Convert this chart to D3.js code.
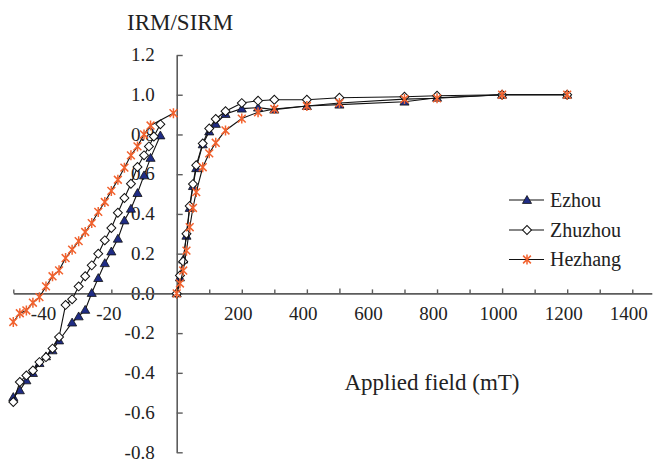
<!DOCTYPE html>
<html>
<head>
<meta charset="utf-8">
<script src="https://cdn.jsdelivr.net/npm/d3@7"></script>
<style>
  html, body { margin: 0; padding: 0; background: #fff; }
  svg { display: block; }
  text { font-family: "Liberation Serif", "Times New Roman", "DejaVu Serif", serif; fill: #222; }
</style>
</head>
<body>
<svg id="chart" width="663" height="459" font-family="Liberation Serif, Times New Roman, serif"></svg>
<script>
// Applied fields (mT) for IRM acquisition (positive side)
const fieldsPos = [0, 10, 20, 30, 40, 50, 60, 80, 100, 120, 150, 200, 250, 300, 400, 500, 700, 800, 1000, 1200];
const ezhouPos    = [0, 0.08, 0.17, 0.29, 0.43, 0.54, 0.63, 0.75, 0.815, 0.853, 0.903, 0.93, 0.935, 0.925, 0.943, 0.95, 0.965, 0.985, 1.0, 1.0];
const zhuzhouPos  = [0, 0.09, 0.16, 0.30, 0.44, 0.55, 0.645, 0.755, 0.83, 0.878, 0.917, 0.958, 0.97, 0.975, 0.975, 0.985, 0.99, 0.995, 1.0, 1.0];
const hezhangPos  = [0, 0.05, 0.115, 0.215, 0.333, 0.43, 0.51, 0.635, 0.705, 0.758, 0.82, 0.88, 0.912, 0.928, 0.943, 0.958, 0.978, 0.982, 1.0, 1.0];

// Backfield demagnetisation (negative side, mT)
const ezhouNegFields = [-5, -8, -10, -12, -14, -16, -18, -20, -22, -24, -26, -28, -30, -32, -36, -38, -40, -42, -44, -46, -48, -50];
const ezhouNeg       = [0.795, 0.682, 0.594, 0.505, 0.426, 0.367, 0.275, 0.211, 0.152, 0.077, 0.002, -0.083, -0.116, -0.147, -0.237, -0.287, -0.317, -0.351, -0.401, -0.438, -0.488, -0.522];

const zhuzhouNegFields = [-5, -7, -8.5, -10, -12, -14, -16, -18, -20, -22, -24, -26, -28, -30, -32, -34, -36, -38, -40, -42, -44, -46, -48, -50];
const zhuzhouNeg       = [0.851, 0.79, 0.74, 0.695, 0.636, 0.552, 0.48, 0.406, 0.329, 0.267, 0.2, 0.141, 0.086, 0.035, -0.03, -0.058, -0.22, -0.278, -0.321, -0.346, -0.388, -0.413, -0.446, -0.547];

const hezhangNegFields = [-1, -8, -10, -12, -14, -16, -18, -20, -22, -24, -26, -28, -30, -32, -34, -36, -38, -40, -42, -44, -46, -48, -50];
const hezhangNeg       = [0.907, 0.845, 0.80, 0.74, 0.695, 0.633, 0.572, 0.516, 0.46, 0.41, 0.354, 0.309, 0.263, 0.22, 0.178, 0.116, 0.086, 0.035, -0.019, -0.047, -0.086, -0.10, -0.144];

// Axis ticks and labels
const yTicks = [-0.8, -0.6, -0.4, -0.2, 0, 0.2, 0.4, 0.6, 0.8, 1.0, 1.2];
const xPosTicks = [0, 100, 200, 300, 400, 500, 600, 700, 800, 900, 1000, 1100, 1200, 1300, 1400];
const xPosLabels = [200, 400, 600, 800, 1000, 1200, 1400];
const xNegTicks = [-50, -20];
const xNegLabels = [-40, -20];

const seriesNames = ["Ezhou", "Zhuzhou", "Hezhang"];

const svg = d3.select("#chart");
const serif = '"Liberation Serif", "Times New Roman", serif';

// Scales: the backfield branch is stretched 10x relative to the forward branch
const xNeg = d3.scaleLinear().domain([-50, 0]).range([13.3, 176.7]);
const xPos = d3.scaleLinear().domain([0, 1460]).range([176.7, 651.8]);
const y = d3.scaleLinear().domain([-0.8, 1.2]).range([452.3, 55]);
const x0 = y(0);

const axisColor = "#5c5c5c";
const fontSize = 19;

function styleAxis(g) {
  g.attr("font-family", null);
  g.selectAll("path.domain").attr("stroke", axisColor).attr("stroke-width", 1.6);
  g.selectAll(".tick line").attr("stroke", axisColor).attr("stroke-width", 1.4);
  g.selectAll(".tick text")
    .attr("fill", "#222")
    .style("font-family", serif)
    .style("font-size", fontSize + "px");
}

// Y axis (ticks point into the plot)
const yAxisG = svg.append("g")
  .attr("transform", `translate(${xPos(0)},0)`)
  .call(d3.axisLeft(y).tickValues(yTicks).tickSizeInner(-6).tickSizeOuter(0)
    .tickPadding(22).tickFormat(d => d.toFixed(1)));
styleAxis(yAxisG);
yAxisG.selectAll(".tick text").attr("dy", "0.3em");

// X axis, forward branch
const xPosG = svg.append("g")
  .attr("transform", `translate(0,${x0})`)
  .call(d3.axisBottom(xPos).tickValues(xPosTicks).tickSizeOuter(0).tickSizeInner(-4)
    .tickPadding(13).tickFormat(d => xPosLabels.includes(d) ? String(d) : ""));
styleAxis(xPosG);
xPosG.selectAll(".tick line").attr("y2", d => d % 500 === 0 ? -5 : -4);
xPosG.selectAll(".tick text").attr("dx", -4);

// X axis, backfield branch: tick marks and labels
const xNegG = svg.append("g")
  .attr("transform", `translate(0,${x0})`)
  .call(d3.axisBottom(xNeg).tickValues(xNegTicks).tickSizeOuter(0).tickSizeInner(-4)
    .tickFormat(() => ""));
styleAxis(xNegG);

const xNegLabelG = svg.append("g")
  .attr("transform", `translate(0,${x0})`)
  .call(d3.axisBottom(xNeg).tickValues(xNegLabels).tickSize(0).tickPadding(13)
    .tickFormat(d => String(d)));
styleAxis(xNegLabelG);
xNegLabelG.select("path.domain").remove();
xNegLabelG.selectAll(".tick text").attr("dx", -3);

// Axis titles
svg.append("text")
  .attr("x", 127).attr("y", 30)
  .style("font-family", serif)
  .style("font-size", "23px")
  .text("IRM/SIRM");

svg.append("text")
  .attr("x", 432).attr("y", 390)
  .attr("text-anchor", "middle")
  .style("font-family", serif)
  .style("font-size", "23px")
  .text("Applied field (mT)");

// Marker drawing helpers
const triPath = d3.symbol(d3.symbolTriangle, 36)();
const diamondPath = d3.symbol(d3.symbolSquare, 40)();
function asteriskPath(r) {
  const p = d3.path();
  const d = r * 0.78;
  p.moveTo(0, -r); p.lineTo(0, r);
  p.moveTo(-d, -d); p.lineTo(d, d);
  p.moveTo(-d, d); p.lineTo(d, -d);
  return p.toString();
}
const starPath = asteriskPath(5);

const markerStyles = {
  Ezhou:   g => g.append("path").attr("d", triPath).attr("transform", "translate(0,0.8)")
                 .attr("fill", "#1f2c85").attr("stroke", "#111").attr("stroke-width", 0.8),
  Zhuzhou: g => g.append("path").attr("d", diamondPath).attr("transform", "rotate(45)")
                 .attr("fill", "#fff").attr("stroke", "#111").attr("stroke-width", 1),
  Hezhang: g => g.append("path").attr("d", starPath)
                 .attr("fill", "none").attr("stroke", "#f2622e").attr("stroke-width", 1.5)
};

function toPoints(fields, values, scale) {
  return fields.map((f, i) => ({ px: scale(f), py: y(values[i]) }));
}

const seriesData = {
  Ezhou:   [toPoints(ezhouNegFields, ezhouNeg, xNeg), toPoints(fieldsPos, ezhouPos, xPos)],
  Zhuzhou: [toPoints(zhuzhouNegFields, zhuzhouNeg, xNeg), toPoints(fieldsPos, zhuzhouPos, xPos)],
  Hezhang: [toPoints(hezhangNegFields, hezhangNeg, xNeg), toPoints(fieldsPos, hezhangPos, xPos)]
};

const line = d3.line().x(d => d.px).y(d => d.py);

seriesNames.forEach(name => {
  const g = svg.append("g").attr("class", "series " + name);
  seriesData[name].forEach(branch => {
    g.append("path").attr("d", line(branch))
      .attr("fill", "none").attr("stroke", "#111").attr("stroke-width", 1.1);
  });
  seriesData[name].forEach(branch => {
    branch.forEach(pt => {
      const m = g.append("g").attr("transform", `translate(${pt.px},${pt.py})`);
      markerStyles[name](m);
    });
  });
});

// Legend
const legendY = [200, 230, 259.5];
const legend = svg.append("g");
seriesNames.forEach((name, i) => {
  const ly = legendY[i];
  legend.append("line").attr("x1", 509).attr("x2", 544).attr("y1", ly).attr("y2", ly)
    .attr("stroke", "#111").attr("stroke-width", 1.1);
  const m = legend.append("g").attr("transform", `translate(527,${ly})`);
  markerStyles[name](m);
  legend.append("text").attr("x", 550).attr("y", ly + 6.5)
    .style("font-family", serif)
    .style("font-size", "20px").text(name);
});
</script>
</body>
</html>
